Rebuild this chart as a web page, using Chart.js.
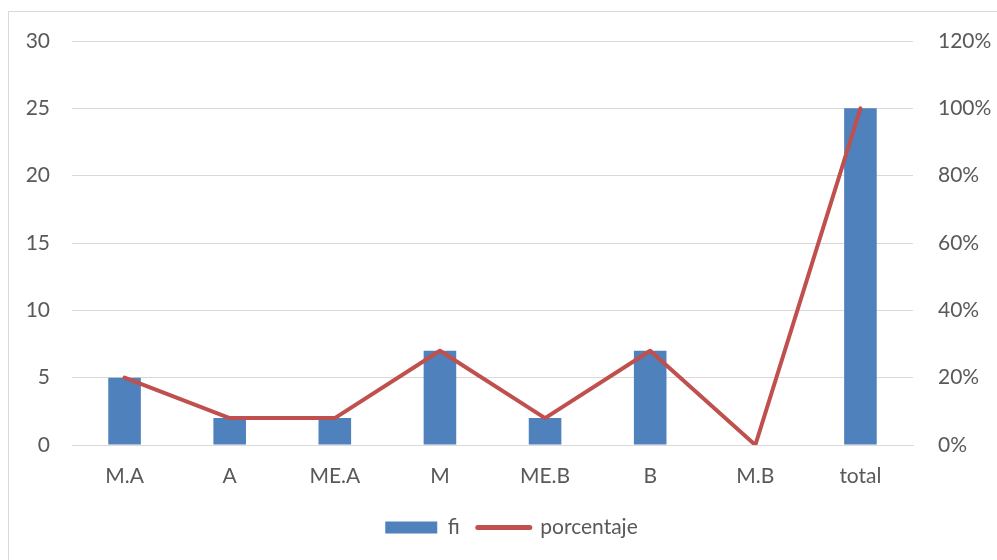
<!DOCTYPE html>
<html>
<head>
<meta charset="utf-8">
<script src="https://cdn.jsdelivr.net/npm/chart.js@4"></script>
<style>
  body { margin: 0; background: #fff; }
  #wrap { position: relative; width: 997px; height: 560px; overflow: hidden; }
  #frame { position: absolute; left: 8px; top: 11px; width: 1200px; height: 700px; border: 1px solid #d9d9d9; box-sizing: border-box; }
  canvas { position: absolute; left: 0; top: 0; }
</style>
</head>
<body>
<div id="wrap">
  <div id="frame"></div>
  <canvas id="chart" width="997" height="560"></canvas>
</div>
<script>
const categories = ['M.A', 'A', 'ME.A', 'M', 'ME.B', 'B', 'M.B', 'total'];
const fiValues = [5, 2, 2, 7, 2, 7, 0, 25];
const porcentajeValues = [20, 8, 8, 28, 8, 28, 0, 100];
const leftTicks = [0, 5, 10, 15, 20, 25, 30];
const rightTicks = [0, 20, 40, 60, 80, 100, 120];

const textColor = '#595959';
const gridColor = '#d9d9d9';
Chart.defaults.font.family = 'Lato, "Open Sans", sans-serif';
Chart.defaults.font.size = 21;
Chart.defaults.color = textColor;

// left padding nudges the legend right, y axis width makes up for it
const padLeft = 26;

const ctx = document.getElementById('chart');
new Chart(ctx, {
    type: 'bar',
    data: {
        labels: categories,
        datasets: [{
            type: 'line',
            label: 'porcentaje',
            data: porcentajeValues,
            yAxisID: 'y1',
            borderColor: '#C0504D',
            backgroundColor: '#C0504D',
            borderWidth: 4,
            borderCapStyle: 'round',
            borderJoinStyle: 'round',
            pointRadius: 0,
            tension: 0,
            order: 0
        }, {
            type: 'bar',
            label: 'fi',
            data: fiValues,
            yAxisID: 'y',
            backgroundColor: '#4F81BD',
            categoryPercentage: 1,
            barPercentage: 0.31,
            order: 1
        }]
    },
    options: {
        responsive: false,
        animation: false,
        layout: { padding: { top: 41, left: padLeft, right: 0, bottom: 12 } },
        scales: {
            x: {
                grid: { display: false, drawTicks: false },
                border: { color: gridColor, width: 1 },
                ticks: { padding: 19, color: textColor },
                afterFit: function(scale) {
                    const legendH = scale.chart.legend ? scale.chart.legend.height : 0;
                    scale.height = 560 - 445 - legendH - 12;
                }
            },
            y: {
                position: 'left',
                min: 0,
                max: 30,
                afterBuildTicks: function(scale) {
                    scale.ticks = leftTicks.map(v => ({ value: v }));
                },
                grid: { color: gridColor, drawTicks: false },
                border: { display: false },
                ticks: { padding: 22, color: textColor },
                afterFit: function(scale) { scale.width = 72 - padLeft; }
            },
            y1: {
                position: 'right',
                min: 0,
                max: 120,
                afterBuildTicks: function(scale) {
                    scale.ticks = rightTicks.map(v => ({ value: v }));
                },
                grid: { display: false, drawTicks: false },
                border: { display: false },
                ticks: {
                    padding: 25,
                    color: textColor,
                    callback: function(v) { return v + '%'; }
                },
                afterFit: function(scale) { scale.width = 997 - 913; }
            }
        },
        plugins: {
            tooltip: { enabled: false },
            legend: {
                position: 'bottom',
                reverse: true,
                labels: {
                    color: textColor,
                    usePointStyle: true,
                    pointStyleWidth: 52,
                    boxHeight: 12,
                    padding: 18,
                    generateLabels: function(chart) {
                        const items = Chart.defaults.plugins.legend.labels.generateLabels(chart);
                        items.forEach(item => {
                            const ds = chart.data.datasets[item.datasetIndex];
                            if (ds.type === 'line') {
                                item.pointStyle = 'line';
                                item.lineWidth = 5;
                                item.strokeStyle = '#C0504D';
                                item.lineCap = 'round';
                            } else {
                                item.pointStyle = 'rect';
                                item.lineWidth = 0;
                            }
                        });
                        return items;
                    }
                }
            }
        }
    }
});
</script>
</body>
</html>
